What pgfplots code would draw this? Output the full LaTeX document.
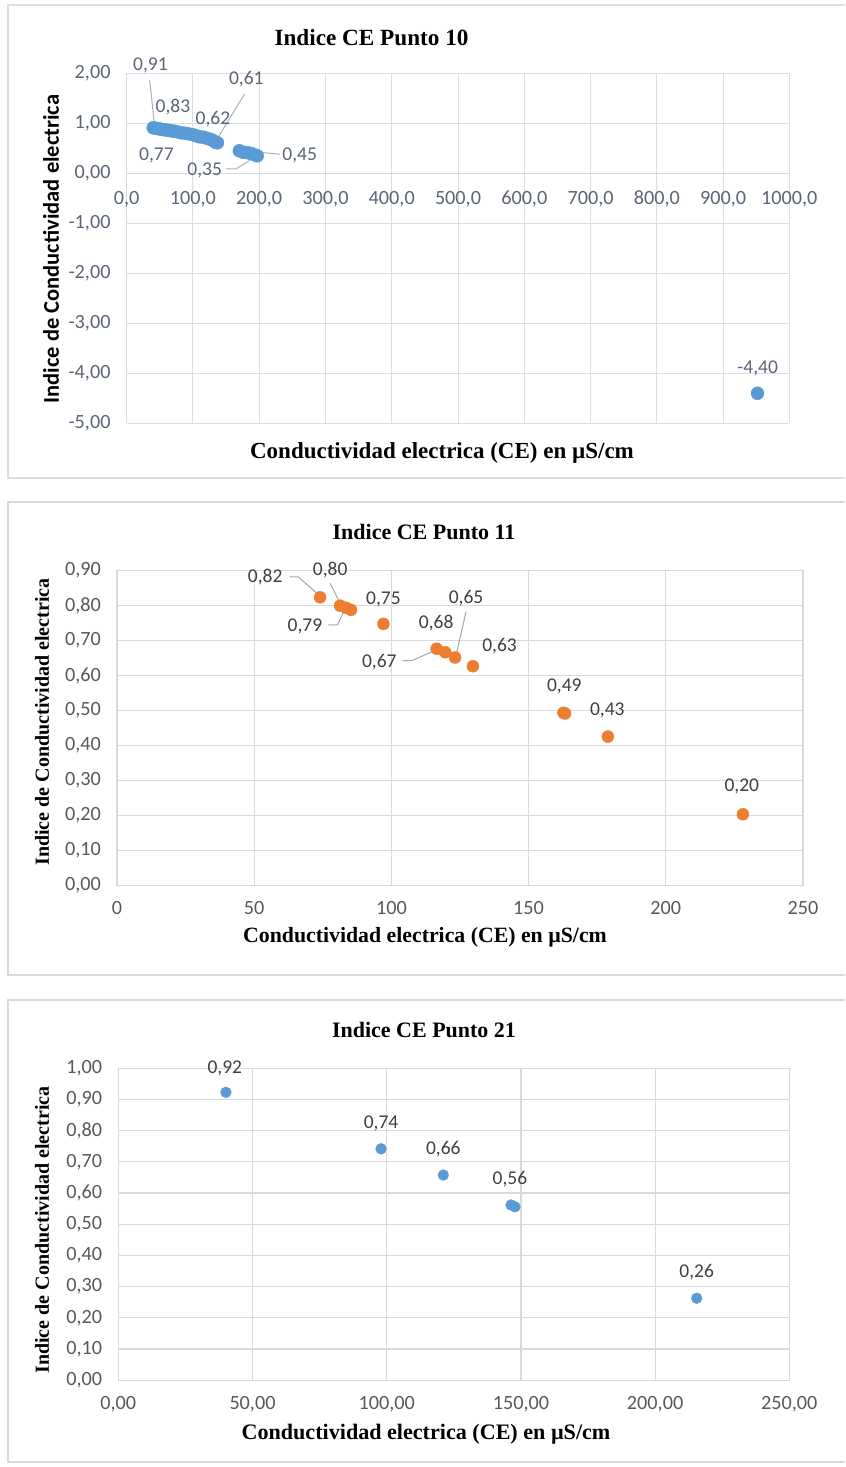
\documentclass[border=0pt]{standalone}
\usepackage{pgfplots}
\pgfplotsset{compat=1.18}
\usepackage{fontspec}
\setmainfont{Liberation Serif}
\newfontfamily\carlito{Carlito}
\definecolor{blueA}{HTML}{5B9BD5}
\definecolor{orangeA}{HTML}{ED7D31}
\definecolor{gridA}{HTML}{D9DEE6}
\definecolor{gridB}{HTML}{D9D9D9}
\definecolor{tickA}{HTML}{5B6577}
\definecolor{tickB}{HTML}{595959}
\definecolor{lblB}{HTML}{404040}
\definecolor{leadA}{HTML}{A9B1BD}
\definecolor{leadB}{HTML}{A6A6A6}
\pgfplotsset{
  base/.style={scale only axis, clip=false, anchor=south west, grid=major,
    major tick length=0pt, tick style={draw=none},
    /pgf/number format/assume math mode=true,
    /pgf/number format/use comma, /pgf/number format/fixed,
    /pgf/number format/fixed zerofill,
    /pgf/number format/1000 sep={},
    ticklabel style={font=\carlito\fontsize{20.2}{23}\selectfont},
    yticklabel style={anchor=east, inner sep=0pt, xshift=-16pt},
    xticklabel style={anchor=center, inner sep=0pt, yshift=-22pt},
  },
}
\tikzset{
  labA/.style={font=\carlito\fontsize{19.5}{22}\selectfont, text=tickA, inner sep=0pt, anchor=center},
  labB/.style={font=\carlito\fontsize{19.5}{22}\selectfont, text=lblB, inner sep=0pt, anchor=center},
}
\begin{document}
\begin{tikzpicture}
\begin{scope}[x=1pt,y=1pt]
\useasboundingbox (0,0) rectangle (833,1467);
\fill[white] (0,0) rectangle (833,1467);
\end{scope}
% ---------------- Panel 1 ----------------
\begin{axis}[base, at={(126.7pt,1043.7pt)}, width=662.6pt, height=350pt,
  xmin=0, xmax=1000, ymin=-5, ymax=2,
  xtick={0,100,200,300,400,500,600,700,800,900,1000},
  ytick={-5,-4,-3,-2,-1,0,1,2},
  axis x line*=middle, axis y line*=left,
  hide obscured x ticks=false, hide obscured y ticks=false,
  major grid style={gridA, line width=1pt},
  axis line style={gridA!80!tickA!70, line width=1pt},
  ticklabel style={text=tickA},
  xticklabel style={/pgf/number format/precision=1, yshift=-4pt},
  yticklabel style={/pgf/number format/precision=2},
]
\addplot[only marks, mark=*, mark size=6.5pt, blueA, mark options={draw=none, fill=blueA}] coordinates {
(40,0.91) (44,0.90) (48,0.89) (52,0.88) (57,0.87) (62,0.86) (67,0.85) (72,0.84)
(76,0.83) (82,0.81) (88,0.80) (93,0.79) (100,0.77) (105,0.75) (110,0.73) (116,0.72)
(121,0.70) (126,0.68) (131,0.65) (134,0.62) (137,0.61)
(170,0.45) (176,0.42) (183,0.41) (189,0.39) (195,0.36) (197,0.35)
(952,-4.40)};
\draw[leadA, line width=1pt] (axis cs:34.7,1.86) -- (axis cs:42.2,0.93);
\draw[leadA, line width=1pt] (axis cs:178.0,1.59) -- (axis cs:135.3,0.66);
\draw[leadA, line width=1pt] (axis cs:230.8,0.38) -- (axis cs:173.2,0.46);
\draw[leadA, line width=1pt] (axis cs:150.3,0.09) -- (axis cs:165.4,0.09) -- (axis cs:195.6,0.34);
\node[labA] at (axis cs:35.9,2.16) {0,91};
\node[labA] at (axis cs:69.8,1.33) {0,83};
\node[labA] at (axis cs:130.1,1.09) {0,62};
\node[labA] at (axis cs:180.5,1.89) {0,61};
\node[labA] at (axis cs:44.8,0.36) {0,77};
\node[labA] at (axis cs:261,0.36) {0,45};
\node[labA] at (axis cs:117.6,0.06) {0,35};
\node[labA] at (axis cs:952.3,-3.90) {-4,40};
\end{axis}
% ---------------- Panel 2 ----------------
\begin{axis}[base, at={(117pt,581.3pt)}, width=686pt, height=315pt,
  xmin=0, xmax=250, ymin=0, ymax=0.9,
  xtick={0,50,100,150,200,250},
  ytick={0,0.1,0.2,0.3,0.4,0.5,0.6,0.7,0.8,0.9},
  major grid style={gridB, line width=1.2pt},
  axis line style={gridB, line width=1.2pt},
  ticklabel style={text=tickB},
  xticklabel style={/pgf/number format/precision=0},
  yticklabel style={/pgf/number format/precision=2},
]
\addplot[only marks, mark=*, mark size=6pt, orangeA, mark options={draw=none, fill=orangeA}] coordinates {
(74.0,0.824) (81.3,0.800) (83.5,0.794) (85.3,0.788) (97.1,0.748)
(116.5,0.677) (119.6,0.667) (123.2,0.652) (129.7,0.627)
(162.7,0.494) (163.3,0.492) (178.9,0.426) (228.1,0.204)};
\draw[leadB, line width=1pt] (axis cs:62.8,0.882) -- (axis cs:66.1,0.882) -- (axis cs:72.8,0.836);
\draw[leadB, line width=1pt] (axis cs:77.7,0.864) -- (axis cs:81.3,0.807);
\draw[leadB, line width=1pt] (axis cs:77.0,0.745) -- (axis cs:80.3,0.745) -- (axis cs:83.1,0.790);
\draw[leadB, line width=1pt] (axis cs:127.2,0.783) -- (axis cs:123.6,0.659);
\draw[leadB, line width=1pt] (axis cs:104.1,0.643) -- (axis cs:107.4,0.643) -- (axis cs:117.1,0.676);
\node[labB] at (axis cs:54.0,0.881) {0,82};
\node[labB] at (axis cs:77.7,0.902) {0,80};
\node[labB] at (axis cs:68.5,0.740) {0,79};
\node[labB] at (axis cs:97.1,0.818) {0,75};
\node[labB] at (axis cs:116.3,0.751) {0,68};
\node[labB] at (axis cs:127.2,0.821) {0,65};
\node[labB] at (axis cs:95.6,0.640) {0,67};
\node[labB] at (axis cs:139.4,0.685) {0,63};
\node[labB] at (axis cs:163.0,0.570) {0,49};
\node[labB] at (axis cs:178.7,0.500) {0,43};
\node[labB] at (axis cs:227.7,0.283) {0,20};
\end{axis}
% ---------------- Panel 3 ----------------
\begin{axis}[base, at={(118.3pt,86.7pt)}, width=671pt, height=312pt,
  xmin=0, xmax=250, ymin=0, ymax=1,
  xtick={0,50,100,150,200,250},
  ytick={0,0.1,0.2,0.3,0.4,0.5,0.6,0.7,0.8,0.9,1},
  major grid style={gridB, line width=1.2pt},
  axis line style={gridB, line width=1.2pt},
  ticklabel style={text=tickB},
  xticklabel style={/pgf/number format/precision=2, yshift=-1.5pt},
  yticklabel style={/pgf/number format/precision=2},
]
\addplot[only marks, mark=*, mark size=5.4pt, blueA, mark options={draw=none, fill=blueA}] coordinates {
(40.1,0.923) (97.9,0.742) (121.1,0.658) (146.3,0.562) (147.8,0.556) (215.5,0.263)};
\node[labB] at (axis cs:39.7,1.0) {0,92};
\node[labB] at (axis cs:97.9,0.823) {0,74};
\node[labB] at (axis cs:121.1,0.742) {0,66};
\node[labB] at (axis cs:145.9,0.645) {0,56};
\node[labB] at (axis cs:215.5,0.346) {0,26};
\end{axis}
% ---------------- Frames, titles ----------------
\begin{scope}[x=1pt,y=1pt]
\draw[gridA, line width=1.4pt] (845,1462) -- (8,1462) -- (8,989) -- (845,989);
\draw[gridB, line width=1.4pt] (845,965) -- (8,965) -- (8,492) -- (845,492);
\draw[gridB, line width=1.4pt] (845,467) -- (8,467) -- (8,5) -- (845,5);
\node[font=\bfseries\fontsize{23.2}{26}\selectfont] at (371.5,1429) {Indice CE Punto 10};
\node[font=\bfseries\fontsize{22}{26}\selectfont] at (424,935) {Indice CE Punto 11};
\node[font=\bfseries\fontsize{22}{26}\selectfont] at (424,437) {Indice CE Punto 21};
\node[font=\bfseries\fontsize{23}{26}\selectfont] at (442,1014) {Conductividad electrica (CE) en µS/cm};
\node[font=\bfseries\fontsize{21.8}{26}\selectfont] at (425,530) {Conductividad electrica (CE) en µS/cm};
\node[font=\bfseries\fontsize{22.1}{26}\selectfont] at (426,33) {Conductividad electrica (CE) en µS/cm};
\node[font=\carlito\bfseries\fontsize{22.5}{26}\selectfont, rotate=90] at (51,1218) {Indice de Conductividad electrica};
\node[font=\bfseries\fontsize{20}{24}\selectfont, rotate=90] at (42,745) {Indice de Conductividad electrica};
\node[font=\bfseries\fontsize{20}{24}\selectfont, rotate=90] at (42,237) {Indice de Conductividad electrica};
\end{scope}
\end{tikzpicture}
\end{document}
